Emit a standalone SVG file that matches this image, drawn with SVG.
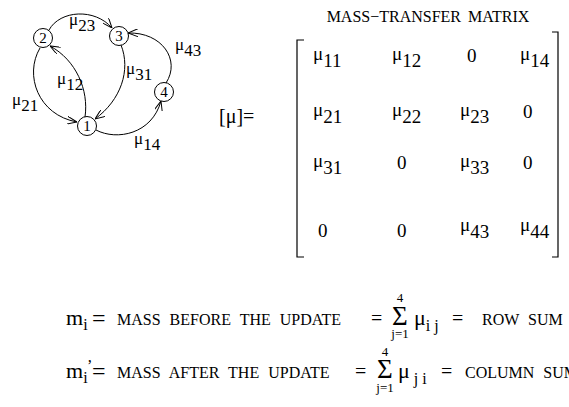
<svg xmlns="http://www.w3.org/2000/svg" width="569" height="407" viewBox="0 0 569 407">
<style>
text{font-family:"Liberation Serif","Times New Roman",serif;fill:#000}
.g{font-size:17px}
.n{font-size:15px;text-anchor:middle}
.m{font-size:19px}
.cap{font-size:16px;word-spacing:5px}
.big{font-size:22px}
.eqb{font-size:24px}
.eq{font-size:20px}
.sig{font-size:27px}
.sm{font-size:13px;text-anchor:middle}
.sub{font-size:16px}
.node circle{fill:#fff;stroke:#000;stroke-width:1}
.edge{fill:none;stroke:#000;stroke-width:1;marker-end:url(#ah)}
.br{fill:none;stroke:#000;stroke-width:1.2}
</style>
<defs>
<marker id="ah" viewBox="0 0 10 8" refX="10" refY="4" markerWidth="10" markerHeight="8" markerUnits="userSpaceOnUse" orient="auto">
<path d="M0,0 L10,4 L0,8" fill="none" stroke="#000" stroke-width="1"/>
</marker>
</defs>
<g id="connectors">
<path class="edge" d="M49,30 C60,10 95,8 112,28"/>
<path class="edge" d="M85,117 C89,90 76,60 50,46"/>
<path class="edge" d="M40,48 C24,75 38,115 77,122"/>
<path class="edge" d="M121,45 C131,70 121,100 95,119"/>
<path class="edge" d="M166,83 C181,60 162,32 128,33"/>
<path class="edge" d="M96,130 C117,141 152,134 161,101"/>
</g>
<g id="edge-labels">
<text class="g" x="69" y="25">μ<tspan dy="6">23</tspan></text>
<text class="g" x="175" y="50">μ<tspan dy="6">43</tspan></text>
<text class="g" x="57" y="84">μ<tspan dy="6">12</tspan></text>
<text class="g" x="126" y="74">μ<tspan dy="6">31</tspan></text>
<text class="g" x="12" y="105">μ<tspan dy="6">21</tspan></text>
<text class="g" x="134" y="144">μ<tspan dy="6">14</tspan></text>
</g>
<g id="node1" class="node"><circle cx="87" cy="126" r="9.5"/><text class="n" x="87" y="131">1</text></g>
<g id="node2" class="node"><circle cx="43" cy="38" r="9.5"/><text class="n" x="43" y="43">2</text></g>
<g id="node3" class="node"><circle cx="119" cy="36" r="9.5"/><text class="n" x="119" y="41">3</text></g>
<g id="node4" class="node"><circle cx="164" cy="92" r="9.5"/><text class="n" x="164" y="97">4</text></g>
<g id="matrix">
<text class="cap" x="428" y="22" text-anchor="middle" style="word-spacing:3px">MASS−TRANSFER MATRIX</text>
<text style="font-size:20px" x="219" y="123">[μ]=</text>
<path class="br" d="M304,40 H297 V257 H304"/>
<path class="br" d="M552,32 H558 V257 H552"/>
<text class="m" x="313" y="60">μ<tspan dy="7">11</tspan></text>
<text class="m" x="392" y="60">μ<tspan dy="7">12</tspan></text>
<text class="m" x="467" y="62">0</text>
<text class="m" x="520" y="60">μ<tspan dy="7">14</tspan></text>
<text class="m" x="313" y="116">μ<tspan dy="7">21</tspan></text>
<text class="m" x="392" y="116">μ<tspan dy="7">22</tspan></text>
<text class="m" x="460" y="116">μ<tspan dy="7">23</tspan></text>
<text class="m" x="523" y="118">0</text>
<text class="m" x="313" y="167">μ<tspan dy="7">31</tspan></text>
<text class="m" x="397" y="169">0</text>
<text class="m" x="460" y="167">μ<tspan dy="7">33</tspan></text>
<text class="m" x="523" y="169">0</text>
<text class="m" x="318" y="237">0</text>
<text class="m" x="397" y="237">0</text>
<text class="m" x="460" y="231">μ<tspan dy="7">43</tspan></text>
<text class="m" x="520" y="231">μ<tspan dy="7">44</tspan></text>
</g>
<g id="formulas">
<text class="big" x="66" y="325">m<tspan class="sub" dy="5">i</tspan></text>
<text class="eqb" x="92" y="326">=</text>
<text class="cap" x="117" y="325">MASS BEFORE THE UPDATE</text>
<text class="eq" x="371" y="325">=</text>
<text class="sig" x="392" y="325">Σ</text>
<text class="sm" x="400" y="302">4</text>
<text class="sm" x="400" y="338">j=1</text>
<text class="big" x="414" y="325">μ<tspan class="sub" dy="6">i j</tspan></text>
<text class="eq" x="452" y="325">=</text>
<text class="cap" x="482" y="325">ROW SUM</text>
<text class="big" x="66" y="378">m<tspan class="sub" dy="5">i</tspan></text>
<text class="sub" x="87" y="371">’</text>
<text class="eqb" x="92" y="379">=</text>
<text class="cap" x="117" y="378">MASS AFTER THE UPDATE</text>
<text class="eq" x="355" y="378">=</text>
<text class="sig" x="377" y="378">Σ</text>
<text class="sm" x="385" y="356">4</text>
<text class="sm" x="385" y="392">j=1</text>
<text class="big" x="398" y="378">μ<tspan class="sub" dy="6"> j i</tspan></text>
<text class="eq" x="441" y="378">=</text>
<text class="cap" x="465" y="378">COLUMN SUM</text>
</g>
</svg>
